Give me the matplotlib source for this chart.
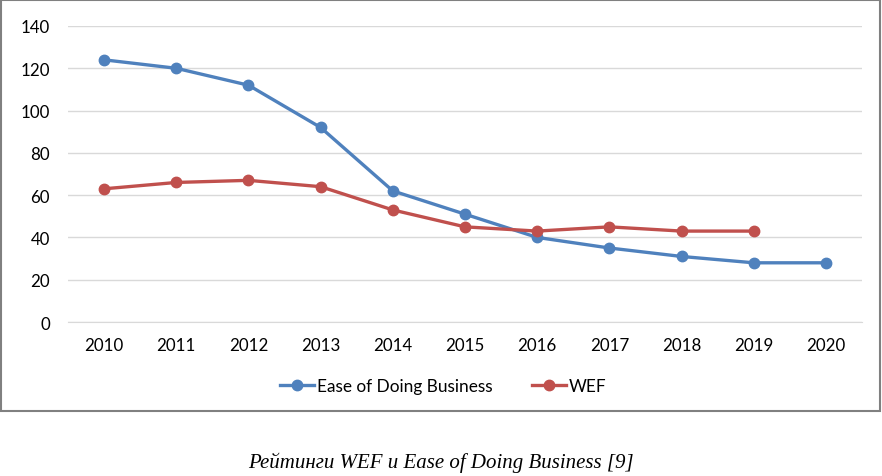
import matplotlib
matplotlib.use("Agg")
import matplotlib.pyplot as plt
from matplotlib.patches import Rectangle

years = ["2010", "2011", "2012", "2013", "2014", "2015", "2016", "2017", "2018", "2019", "2020"]
ease = [124, 120, 112, 92, 62, 51, 40, 35, 31, 28, 28]
wef = [63, 66, 67, 64, 53, 45, 43, 45, 43, 43]
yticks = [0, 20, 40, 60, 80, 100, 120, 140]

W, H = 882, 477
fig = plt.figure(figsize=(W / 100, H / 100), dpi=100)
ax = fig.add_axes([68 / W, 1 - 323 / H, (862 - 68) / W, (323 - 27) / H])

blue = "#4F81BD"
red = "#C0504D"
x_e = list(range(len(ease)))
x_w = list(range(len(wef)))
ax.plot(x_e, ease, color=blue, lw=2.4, marker="o", ms=7.5, label="Ease of Doing Business", zorder=3)
ax.plot(x_w, wef, color=red, lw=2.4, marker="o", ms=7.5, label="WEF", zorder=3)

ax.set_xlim(-0.5, len(years) - 0.5)
ax.set_ylim(0, 140)
ax.set_yticks(yticks)
ax.set_xticks(x_e)
ax.set_xticklabels(years)
ax.grid(axis="y", color="#D9D9D9", lw=1)
ax.set_axisbelow(True)
for s in ["top", "right", "left"]:
    ax.spines[s].set_visible(False)
ax.spines["bottom"].set_color("#D9D9D9")
ax.tick_params(length=0, labelsize=12.2, colors="#000000")
ax.tick_params(axis="y", pad=13)
ax.tick_params(axis="x", pad=11)
for lab in ax.get_xticklabels() + ax.get_yticklabels():
    lab.set_fontfamily("Lato")

leg = fig.legend(loc="center", bbox_to_anchor=(443 / W, 1 - 387 / H), ncol=2, frameon=False,
                 prop={"family": "Lato", "size": 12.4}, handlelength=2.0, columnspacing=2.3, handletextpad=0.15)

fig.patches.append(Rectangle((1 / W, 1 - 412 / H), 879 / W, 411 / H, transform=fig.transFigure,
                             fill=False, edgecolor="#808080", lw=1.5))

fig.text(441 / W, 1 - 463 / H, "Рейтинги WEF и Ease of Doing Business [9]", ha="center", va="center",
         family="Liberation Serif", style="italic", fontsize=15)

fig.savefig("out.png", dpi=100)
